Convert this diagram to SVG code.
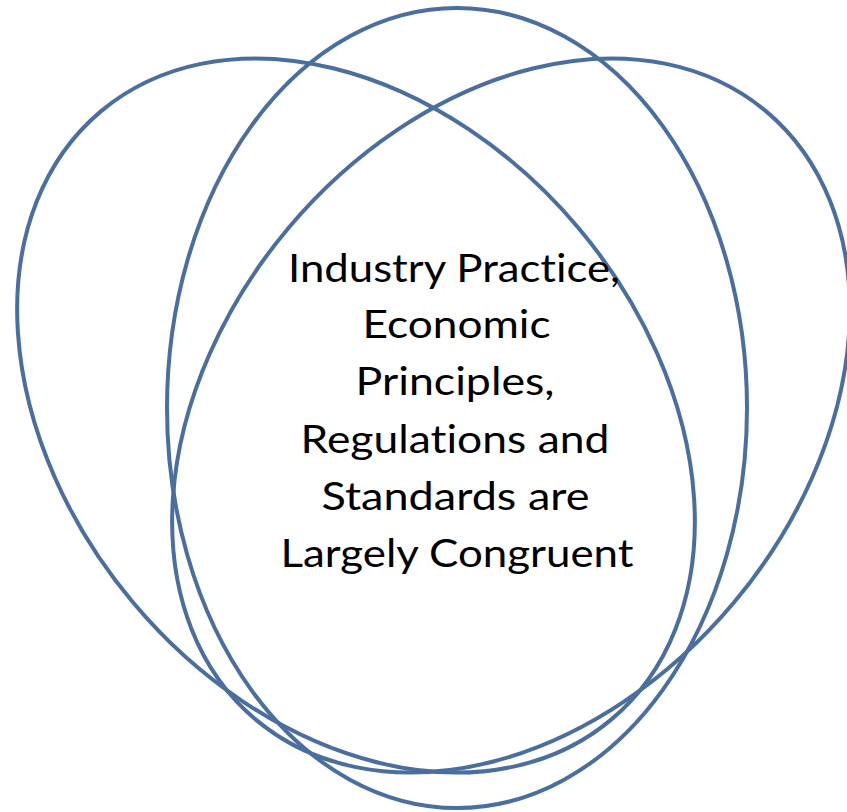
<svg xmlns="http://www.w3.org/2000/svg" width="847" height="812" viewBox="0 0 847 812">
  <style>
    .ring { fill: none; stroke: #4A6EA0; stroke-width: 4; }
    .label { font-family: Lato, "Liberation Sans", sans-serif; font-size: 38px; fill: #000; text-anchor: middle; font-variant-ligatures: none; font-feature-settings: "liga" 0, "clig" 0; }
  </style>
  <rect width="847" height="812" fill="#fff"/>
  <!-- three overlapping ellipses of the same size, tilted -40, 0 and +40 degrees -->
  <g id="ellipse-left">
    <ellipse class="ring" cx="356" cy="415.5" rx="291" ry="397" transform="rotate(-40 356 415.5)"/>
  </g>
  <g id="ellipse-middle">
    <ellipse class="ring" cx="457" cy="408" rx="290" ry="400"/>
  </g>
  <g id="ellipse-right">
    <ellipse class="ring" cx="511" cy="415.5" rx="291" ry="397" transform="rotate(40 511 415.5)"/>
  </g>
  <!-- centre label where all three overlap; each line widened to the set's measure -->
  <g id="overlap-label">
    <text class="label" x="454" y="282" textLength="332" lengthAdjust="spacingAndGlyphs">Industry Practice,</text>
    <text class="label" x="456.5" y="338" textLength="188" lengthAdjust="spacingAndGlyphs">Economic</text>
    <text class="label" x="455" y="395" textLength="199" lengthAdjust="spacingAndGlyphs">Principles,</text>
    <text class="label" x="455" y="453" textLength="309" lengthAdjust="spacingAndGlyphs">Regulations and</text>
    <text class="label" x="455.5" y="510" textLength="268" lengthAdjust="spacingAndGlyphs">Standards are</text>
    <text class="label" x="457" y="567" textLength="353" lengthAdjust="spacingAndGlyphs">Largely Congruent</text>
  </g>
</svg>
